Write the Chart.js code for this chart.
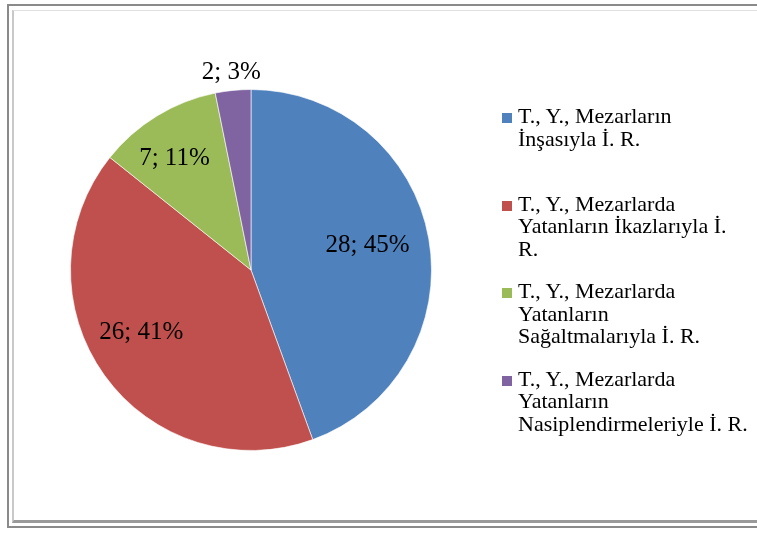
<!DOCTYPE html>
<html>
<head>
<meta charset="utf-8">
<script src="https://cdn.jsdelivr.net/npm/chart.js@4.4.0/dist/chart.umd.min.js"></script>
<style>
  html, body { margin: 0; padding: 0; background: #fff; }
  body { width: 757px; height: 534px; position: relative; overflow: hidden; }
  #frame {
    position: absolute; left: 7px; top: 4px; width: 760px; height: 524px;
    border: 2px solid #8a8a8a; box-sizing: border-box;
  }
  #inner {
    position: absolute; left: 3px; top: 4px; right: 0; bottom: 3px;
    border-left: 2px solid #c8c8c8; border-top: 1px solid #e0e0e0;
    border-bottom: 3px solid #9a9a9a;
  }
  #wrap { position: absolute; left: 0; top: 0; width: 757px; height: 534px; }
  #legend {
    position: absolute; left: 502px; top: 105px; width: 250px;
    font-family: "Liberation Serif", "Times New Roman", serif;
    font-size: 22px; line-height: 22.5px; color: #000;
  }
  .item { position: relative; height: 87.5px; padding-left: 16px; }
  .box { position: absolute; left: 0; top: 8px; width: 10px; height: 10px; }
</style>
</head>
<body>
<div id="frame"><div id="inner"></div></div>
<div id="wrap"><canvas id="myChart" width="757" height="534"></canvas></div>
<div id="legend"></div>
<script>
// data
const categories = [
    'T., Y., Mezarların İnşasıyla İ. R.',
    'T., Y., Mezarlarda Yatanların İkazlarıyla İ. R.',
    'T., Y., Mezarlarda Yatanların Sağaltmalarıyla İ. R.',
    'T., Y., Mezarlarda Yatanların Nasiplendirmeleriyle İ. R.'
];
const values = [28, 26, 7, 2];
const percents = ['45%', '41%', '11%', '3%'];
const colors = ['#4F81BD', '#C0504D', '#9BBB59', '#8064A2'];
// where each value label sits: share of the radius, small turn in degrees
const labelRadius = [0.66, 0.70, 0.75, 1.10];
const labelTurn = [-2, 6, -3, 0];

const dataLabels = {
    id: 'dataLabels',
    afterDatasetsDraw(chart) {
        const ctx = chart.ctx;
        const meta = chart.getDatasetMeta(0);
        ctx.save();
        ctx.font = '25px "Liberation Serif", "Times New Roman", serif';
        ctx.fillStyle = '#000';
        ctx.textAlign = 'center';
        ctx.textBaseline = 'middle';
        meta.data.forEach((arc, i) => {
            const p = arc.getProps(['x', 'y', 'startAngle', 'endAngle', 'outerRadius'], true);
            const a = (p.startAngle + p.endAngle) / 2 + labelTurn[i] * Math.PI / 180;
            const r = p.outerRadius * labelRadius[i];
            ctx.fillText(values[i] + '; ' + percents[i], p.x + Math.cos(a) * r, p.y + Math.sin(a) * r);
        });
        ctx.restore();
    }
};

const data = {
    labels: categories,
    datasets: [{
        data: values,
        backgroundColor: colors,
        borderColor: 'rgba(255,255,255,0.6)',
        borderWidth: 1
    }]
};

const config = {
    type: 'pie',
    data: data,
    options: {
        responsive: false,
        animation: false,
        layout: {
            padding: { left: 70, top: 89, right: 325, bottom: 83 }
        },
        plugins: {
            legend: { display: false },
            tooltip: { enabled: false }
        }
    },
    plugins: [dataLabels]
};

const myChart = new Chart(document.getElementById('myChart').getContext('2d'), config);

// legend built from the chart's own legend items
const legendEl = document.getElementById('legend');
myChart.options.plugins.legend.labels.generateLabels(myChart).forEach(item => {
    const div = document.createElement('div');
    div.className = 'item';
    const box = document.createElement('span');
    box.className = 'box';
    box.style.background = item.fillStyle;
    div.appendChild(box);
    div.appendChild(document.createTextNode(item.text));
    legendEl.appendChild(div);
});
</script>
</body>
</html>
